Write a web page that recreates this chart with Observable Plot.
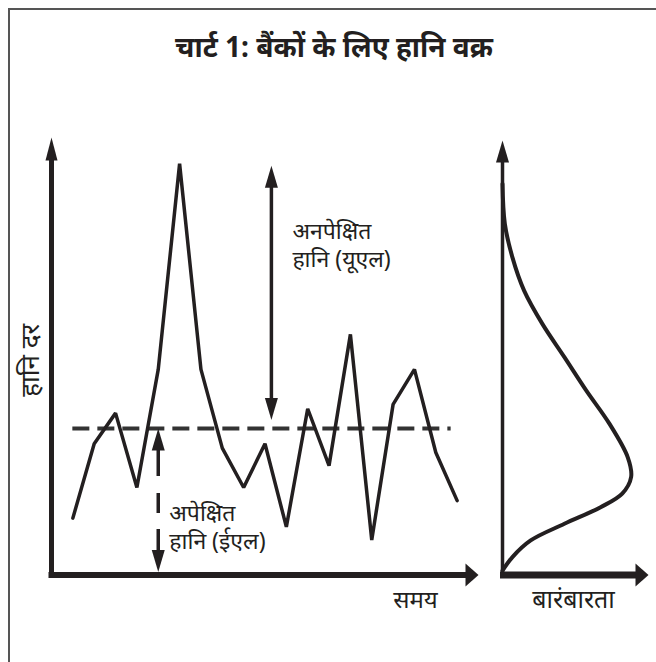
<!DOCTYPE html>
<html><head><meta charset="utf-8">
<script src="https://cdn.jsdelivr.net/npm/d3@7"></script>
<script src="https://cdn.jsdelivr.net/npm/@observablehq/plot@0.6"></script>
<style>
html,body{margin:0;padding:0;background:#fff;}
#wrap{position:relative;width:656px;height:662px;overflow:hidden;font-family:"Noto Sans","Noto Sans Devanagari",sans-serif;color:#231f20;}
#frame{position:absolute;left:8px;top:8px;width:700px;height:700px;border-left:2px solid #555;border-top:2px solid #555;}
#title{position:absolute;left:0;width:668px;top:32px;text-align:center;font-weight:bold;font-size:28px;line-height:1;}
#left,#right{position:absolute;top:0;}
#left{left:0px} #right{left:490px}
</style></head><body>
<div id="wrap"><div id="frame"></div><div id="title">चार्ट 1: बैंकों के लिए हानि वक्र</div><div id="left"></div><div id="right"></div></div>
<script>
// ---- data ----
const timeDomain = [0, 20];
const lossDomain = [0, 100];
const freqDomain = [0, 100];
const time = [1, 2, 3, 4, 5, 6, 7, 8, 9, 10, 11, 12, 13, 14, 15, 16, 17, 18, 19];
const lossRate = [13, 30, 37, 20, 47, 94, 47, 29, 20, 30, 11, 38, 25, 55, 8, 39, 47, 28, 17];
const expectedLoss = 33.5;
const ulTime = 10.3;   // where the UL arrow is drawn
const elTime = 5;      // where the EL arrow is drawn
const densityLoss = [89.4, 80.3, 72.6, 65.0, 57.4, 49.8, 42.2, 34.6, 26.9, 22.4, 18.6, 15.5, 11.7, 7.9, 4.1, 1.0];
const densityFreq = [0, 1.6, 6.8, 14.8, 27.3, 42.4, 57.3, 73.2, 85.8, 88.1, 82.0, 67.2, 42.4, 19.3, 6.8, 0];
const labels = {
  y: "हानि दर", x: "समय", freq: "बारंबारता",
  ul: ["अनपेक्षित", "हानि (यूएल)"], el: ["अपेक्षित", "हानि (ईएल)"]
};

// ---- build ----
const ink = "#231f20";
const font = "Noto Sans, Noto Sans Devanagari, sans-serif";
const series = time.map((t, i) => ({t, loss: lossRate[i]}));
const density = densityLoss.map((l, i) => ({loss: l, freq: densityFreq[i]}));
const peak = d3.max(lossRate);
const head = (w, l) => ({draw(ctx) { ctx.moveTo(0, 0); ctx.lineTo(w / 2, l); ctx.lineTo(-w / 2, l); ctx.closePath(); }});
const headV = head(13, 22);
const headH = head(23, 13);
const dotOpts = {fill: ink, stroke: "none", r: 1};
const annot = {text: d => d, textAnchor: "start", lineAnchor: "bottom", fontSize: 23, fontFamily: font, fill: ink};

const left = Plot.plot({
  width: 490, height: 662,
  marginLeft: 51, marginRight: 12, marginTop: 137, marginBottom: 87.5,
  x: {domain: timeDomain, axis: null},
  y: {domain: lossDomain, axis: null},
  style: {background: "transparent", overflow: "visible"},
  marks: [
    // axes
    Plot.ruleX([timeDomain[0]], {y1: lossDomain[1], y2: lossDomain[0], insetTop: 20, insetBottom: -3, stroke: ink, strokeWidth: 5}),
    Plot.dot([{x: timeDomain[0], y: lossDomain[1]}], {x: "x", y: "y", symbol: head(12, 23), rotate: 0, ...dotOpts}),
    Plot.ruleY([lossDomain[0]], {x1: timeDomain[0], x2: timeDomain[1], insetLeft: -2.5, insetRight: 11, stroke: ink, strokeWidth: 6}),
    Plot.dot([{x: timeDomain[1], y: lossDomain[0]}], {x: "x", y: "y", symbol: headH, rotate: 90, ...dotOpts}),
    // expected loss dashed line
    Plot.ruleY([expectedLoss], {x1: time[0], x2: time[time.length - 1], insetRight: 6, stroke: "#333", strokeWidth: 4, strokeDasharray: "17,8"}),
    // loss series
    Plot.line(series, {x: "t", y: "loss", stroke: ink, strokeWidth: 3.5, strokeLinejoin: "miter"}),
    // UL arrow
    Plot.ruleX([ulTime], {y1: peak, y2: expectedLoss, insetTop: 22, insetBottom: 28, stroke: ink, strokeWidth: 3.5}),
    Plot.dot([{x: ulTime, y: peak}], {x: "x", y: "y", symbol: headV, rotate: 0, dy: 2, ...dotOpts}),
    Plot.dot([{x: ulTime, y: expectedLoss}], {x: "x", y: "y", symbol: headV, rotate: 180, dy: -8.5, ...dotOpts}),
    // EL arrow (dashed)
    Plot.ruleX([elTime], {y1: expectedLoss, y2: lossDomain[0], insetTop: 22, insetBottom: 24, stroke: ink, strokeWidth: 3.5, strokeDasharray: "26,17,20,16,40"}),
    Plot.dot([{x: elTime, y: expectedLoss}], {x: "x", y: "y", symbol: headV, rotate: 0, ...dotOpts}),
    Plot.dot([{x: elTime, y: lossDomain[0]}], {x: "x", y: "y", symbol: headV, rotate: 180, dy: -3, ...dotOpts}),
    // annotations (one text per line)
    Plot.text([labels.ul[0]], {x: ulTime, y: peak, dx: 21, dy: 75, ...annot}),
    Plot.text([labels.ul[1]], {x: ulTime, y: peak, dx: 21, dy: 103, ...annot}),
    Plot.text([labels.el[0]], {x: elTime, y: lossDomain[0], dx: 11, dy: -54.5, ...annot}),
    Plot.text([labels.el[1]], {x: elTime, y: lossDomain[0], dx: 11, dy: -26.5, ...annot}),
    // axis labels
    Plot.text([labels.x], {frameAnchor: "bottom-right", text: d => d, textAnchor: "middle", lineAnchor: "bottom", dx: -63, dy: 33, fontSize: 24, fontFamily: font, fill: ink}),
    Plot.text([labels.y], {frameAnchor: "left", text: d => d, textAnchor: "middle", lineAnchor: "middle", rotate: -90, dx: -21, dy: 4, fontSize: 26, fontFamily: font, fill: ink})
  ]
});

const right = Plot.plot({
  width: 166, height: 662,
  marginLeft: 12, marginRight: 8, marginTop: 137, marginBottom: 87.5,
  x: {domain: freqDomain, axis: null},
  y: {domain: lossDomain, axis: null},
  style: {background: "transparent", overflow: "visible"},
  marks: [
    Plot.ruleX([freqDomain[0]], {y1: lossDomain[1], y2: lossDomain[0], insetTop: 20, insetBottom: -3, stroke: ink, strokeWidth: 3.5}),
    Plot.dot([{x: freqDomain[0], y: lossDomain[1]}], {x: "x", y: "y", symbol: headV, rotate: 0, dy: 3, ...dotOpts}),
    Plot.ruleY([lossDomain[0]], {x1: freqDomain[0], x2: freqDomain[1], insetLeft: -2, insetRight: 11, stroke: ink, strokeWidth: 7}),
    Plot.dot([{x: freqDomain[1], y: lossDomain[0]}], {x: "x", y: "y", symbol: headH, rotate: 90, ...dotOpts}),
    Plot.line(density, {x: "freq", y: "loss", curve: "catmull-rom", stroke: ink, strokeWidth: 4}),
    Plot.text([labels.freq], {frameAnchor: "bottom", text: d => d, textAnchor: "middle", lineAnchor: "bottom", dx: -2, dy: 33, fontSize: 25, fontFamily: font, fill: ink})
  ]
});

document.getElementById("left").appendChild(left);
document.getElementById("right").appendChild(right);
</script>
</body></html>
